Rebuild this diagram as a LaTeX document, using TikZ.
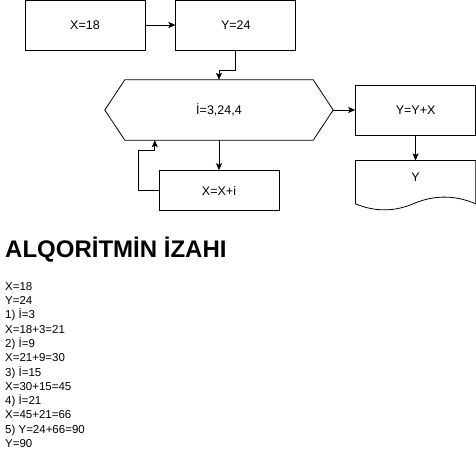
\documentclass[tikz,border=0pt]{standalone}
\usepackage{fontspec}
\setmainfont{Liberation Sans}
\usetikzlibrary{positioning,arrows.meta,calc}

\begin{document}
\begin{tikzpicture}[x=1pt,y=-1pt,node distance=30pt,
    every node/.style={inner sep=0pt,font=\fontsize{12.5}{14}\selectfont},
    box/.style={draw,line width=0.8pt,minimum width=120pt,minimum height=50pt},
    arr/.style={-{Stealth[length=7pt,width=6pt,inset=1.5pt]},line width=0.8pt}]
  \useasboundingbox (0,0) rectangle (476,461);
  \node[box] (x18) at (85,25) {X=18};
  \node[box,right=30pt of x18] (y24) {Y=24};
  \node[minimum width=228pt,minimum height=60pt] (loop) at (219,110) {İ=3,24,4};
  \draw[line width=0.8pt] (loop.west) -- ($(loop.north west)+(20,0)$) -- ($(loop.north east)+(-20,0)$)
    -- (loop.east) -- ($(loop.south east)+(-20,0)$) -- ($(loop.south west)+(20,0)$) -- cycle;
  \node[box,right=22pt of loop] (sum) {Y=Y+X};
  \node[minimum width=120pt,minimum height=34pt,below=25pt of sum] (out) {Y};
  \draw[line width=0.8pt] ($(out.south west)+(0,9)$) -- (out.north west) -- (out.north east) -- ($(out.south east)+(0,9)$)
    .. controls (455,195) and (435,195) .. (415,203) .. controls (395,212) and (375,212) .. ($(out.south west)+(0,9)$);
  \node[box,minimum height=40pt,below=30pt of loop] (xsum) {X=X+i};
  % connectors
  \draw[arr] (x18) -- (y24);
  \draw[arr] (y24.south) -- ++(0,20) -| (loop.north);
  \draw[arr] (loop) -- (sum);
  \draw[arr] (sum) -- (out);
  \draw[arr] (loop) -- (xsum);
  \draw[arr] (xsum.west) -| ++(-20,-40) -| ($(loop.south west)+(50,0)$);
  % text
  \node[anchor=west,font=\bfseries\fontsize{24}{28}\selectfont] (title) at (5,250) {ALQORİTMİN İZAHI};
  \node[anchor=north west,align=left,font=\fontsize{11.5}{14.3}\selectfont] (steps) at (5,282)
    {X=18\\Y=24\\1) İ=3\\X=18+3=21\\2) İ=9\\X=21+9=30\\3) İ=15\\X=30+15=45\\4) İ=21\\X=45+21=66\\5) Y=24+66=90\\Y=90};
\end{tikzpicture}
\end{document}
